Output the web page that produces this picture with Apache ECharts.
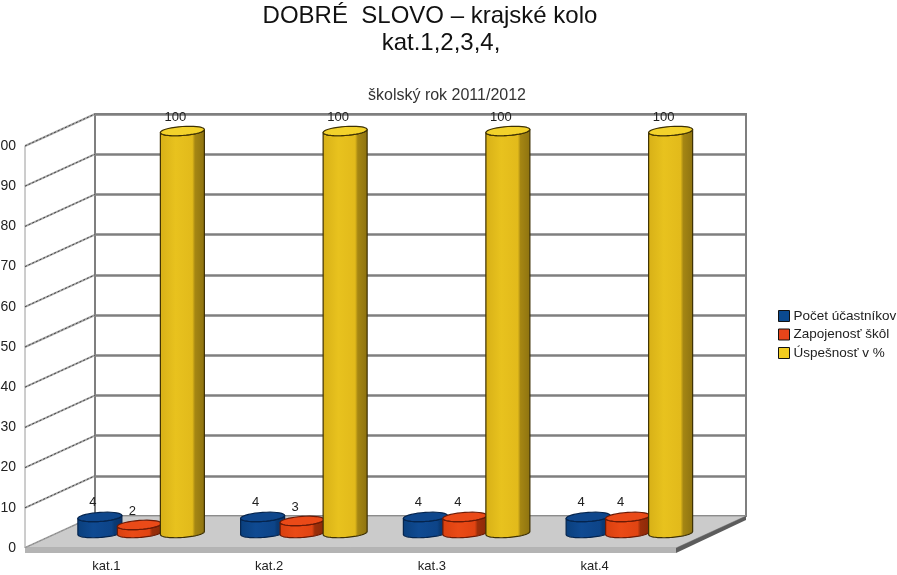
<!DOCTYPE html>
<html><head><meta charset="utf-8">
<style>html,body{margin:0;padding:0;background:#fff;overflow:hidden}#c{width:897px;height:575px}</style>
<script src="https://cdn.jsdelivr.net/npm/echarts@6/dist/echarts.min.js"></script>
</head><body><div id="c"></div>
<script>
const categories = ['kat.1','kat.2','kat.3','kat.4'];
const ticks = [0,10,20,30,40,50,60,70,80,90,100];
const participants = [4,4,4,4];
const schools = [2,3,4,4];
const success = [100,100,100,100];
const names = ['Počet účastníkov','Zapojenosť škôl','Úspešnosť v %'];

const DEPTH_X = 70, DEPTH_Y = -32;
const BASE_DX = 33, BASE_DY = -15;
const FONT = '"Liberation Sans", Arial, sans-serif';
const chart = echarts.init(document.getElementById('c'), null, {renderer:'canvas'});

function ellipsePts(cx, cy, rx, ry, tilt, from, to){
  const pts = [];
  for(let k=0;k<=36;k++){
    const t = from + (to-from)*k/36;
    pts.push([cx + rx*Math.cos(t), cy + ry*Math.sin(t) - tilt*Math.cos(t)]);
  }
  return pts;
}
function grad(st){ return new echarts.graphic.LinearGradient(0,0,1,0,st); }

function cylinderSeries(name, data, offset, colors){
  return {
    type:'custom', name, xAxisIndex:1, yAxisIndex:1, z:5, clip:false,
    itemStyle:{color:colors.legend},
    data:data.map((v,i)=>[i,v]),
    encode:{x:0,y:1},
    renderItem(params, api){
      const top = api.coord([api.value(0), api.value(1)]);
      const base = api.coord([api.value(0), 0]);
      const cx = top[0] + BASE_DX + offset, rx = 22, ry = 4.5, tilt = 1.5;
      const yb = base[1] + BASE_DY, yt = top[1] + BASE_DY;
      const lower = ellipsePts(cx, yb, rx, ry, tilt, 0, Math.PI);
      const frontTop = ellipsePts(cx, yt, rx, ry, tilt, Math.PI, 0);
      const body = lower.concat(frontTop);
      return {type:'group', children:[
        {type:'polygon', shape:{points:body}, style:{fill:grad(colors.body), stroke:colors.edge, lineWidth:1.2, lineJoin:'round'}},
        {type:'polygon', shape:{points:ellipsePts(cx, yt, rx, ry, tilt, 0, 2*Math.PI)},
          style:{fill:colors.top, stroke:colors.edge, lineWidth:1.2, lineJoin:'round'}},
        {type:'text', style:{x:cx-7, y:yt-14, text:String(api.value(1)), fill:'#222',
          font:'13px '+FONT, textAlign:'center', textVerticalAlign:'middle'}}
      ]};
    }
  };
}

const option = {
  animation:false,
  backgroundColor:'#fff',
  title:[
    {text:'DOBRÉ  SLOVO – krajské kolo', left:430, top:4, padding:0, textAlign:'center',
      textStyle:{fontFamily:FONT,fontWeight:'normal',fontSize:24,color:'#111'}},
    {text:'kat.1,2,3,4,', left:441, top:31, padding:0, textAlign:'center',
      textStyle:{fontFamily:FONT,fontWeight:'normal',fontSize:24,color:'#111'}},
    {text:'školský rok 2011/2012', left:447, top:88, padding:0, textAlign:'center',
      textStyle:{fontFamily:FONT,fontWeight:'normal',fontSize:16,color:'#333'}}
  ],
  legend:{
    orient:'vertical', left:778, top:309, padding:0, itemWidth:11, itemHeight:11, itemGap:4.5,
    icon:'rect', data:names, selectedMode:false,
    itemStyle:{borderColor:'#111',borderWidth:1},
    textStyle:{fontFamily:FONT,fontSize:13.5,color:'#222',padding:[0,0,0,-1]}
  },
  grid:[
    {left:95, top:114, width:651, height:402, outerBoundsMode:'none', show:true, backgroundColor:'#fff', borderColor:'#7f7f7f', borderWidth:2},
    {left:25, top:146, width:651, height:402, outerBoundsMode:'none'}
  ],
  xAxis:[
    {gridIndex:0, type:'category', data:categories, show:false},
    {gridIndex:1, type:'category', data:categories,
      axisLine:{show:false}, axisTick:{show:false},
      axisLabel:{fontFamily:FONT,fontSize:13,color:'#222',margin:12}}
  ],
  yAxis:[
    {gridIndex:0, type:'value', min:0, max:100, interval:10, axisLabel:{show:false},
      axisLine:{show:false}, axisTick:{show:false},
      splitLine:{show:true, lineStyle:{color:'#7f7f7f', width:2.5}}},
    {gridIndex:1, type:'value', min:0, max:100, interval:10,
      axisLine:{show:false}, axisTick:{show:false}, splitLine:{show:false},
      axisLabel:{fontFamily:FONT,fontSize:14,color:'#222',margin:9}}
  ],
  series:[
    {
      type:'custom', name:'wall', xAxisIndex:1, yAxisIndex:1, z:2, silent:true, clip:false,
      data:ticks.map(v=>[0,v]), encode:{x:0,y:1},
      renderItem(params, api){
        const x = params.coordSys.x, y = api.coord([0, api.value(1)])[1];
        const shape = {x1:x, y1:y, x2:x+DEPTH_X, y2:y+DEPTH_Y};
        const children = [
          {type:'line', shape, style:{stroke:'#a8a8a8', lineWidth:2}},
          {type:'line', shape, style:{stroke:'#444', lineWidth:1, lineDash:[2,2]}}
        ];
        if(api.value(1) === 0) children.push({type:'line',
          shape:{x1:x, y1:params.coordSys.y, x2:x, y2:y}, style:{stroke:'#9a9a9a', lineWidth:1}});
        return {type:'group', children};
      }
    },
    {
      type:'custom', name:'floor', xAxisIndex:1, yAxisIndex:1, z:3, silent:true, clip:false,
      data:[[0,0]], encode:{x:0,y:1},
      renderItem(params, api){
        const c = params.coordSys, y = api.coord([0,0])[1], x = c.x, w = c.width, t = 5;
        return {type:'group', children:[
          {type:'polygon', shape:{points:[[x,y],[x+DEPTH_X,y+DEPTH_Y],[x+w+DEPTH_X,y+DEPTH_Y],[x+w,y]]},
            style:{fill:'#cbcbcb', stroke:'#9a9a9a', lineWidth:1}},
          {type:'polygon', shape:{points:[[x,y],[x+w,y],[x+w,y+t],[x,y+t]]}, style:{fill:'#b4b4b4'}},
          {type:'polygon', shape:{points:[[x+w,y],[x+w+DEPTH_X,y+DEPTH_Y],[x+w+DEPTH_X,y+DEPTH_Y+t-1],[x+w,y+t]]},
            style:{fill:'#5c5c5c'}}
        ]};
      }
    },
    cylinderSeries(names[0], participants, -39.5, {legend:'#0b4a8f', top:'#0f478c', edge:'#05244d',
      body:[{offset:0,color:'#0a3f7c'},{offset:.35,color:'#0f4a92'},{offset:.76,color:'#0d4488'},{offset:.82,color:'#0a3a74'},{offset:1,color:'#08326a'}]}),
    cylinderSeries(names[1], schools, 0, {legend:'#e8451a', top:'#ea4a18', edge:'#6a1a06',
      body:[{offset:0,color:'#d8400f'},{offset:.35,color:'#ea4a16'},{offset:.72,color:'#e04412'},{offset:.78,color:'#9c2f0a'},{offset:1,color:'#8a2908'}]}),
    cylinderSeries(names[2], success, 43, {legend:'#f2cc1f', top:'#f3d22b', edge:'#3d3004',
      body:[{offset:0,color:'#d7b017'},{offset:.35,color:'#e8c21e'},{offset:.72,color:'#e2ba1b'},{offset:.78,color:'#a58613'},{offset:1,color:'#8d7210'}]})
  ]
};
chart.setOption(option);
</script></body></html>
